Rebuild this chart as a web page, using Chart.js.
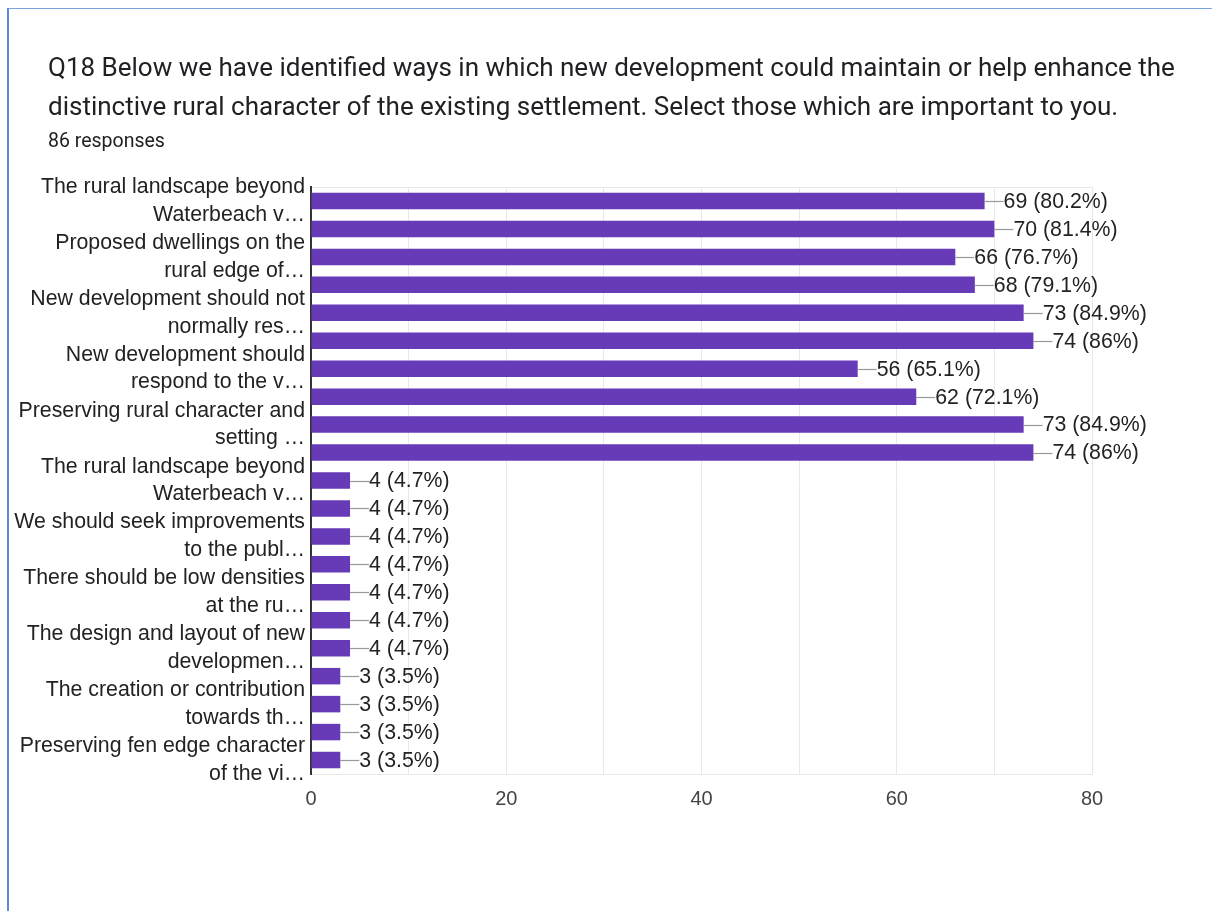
<!DOCTYPE html>
<html>
<head>
<meta charset="utf-8">
<script src="https://cdn.jsdelivr.net/npm/chart.js@4"></script>
<style>
  body { margin: 0; background: #fff; width: 1212px; height: 911px; overflow: hidden; position: relative; }
  .card { position: absolute; left: 7px; top: 8px; width: 1210px; height: 910px; border-left: 2px solid #5a8ad6; border-top: 1px solid #7aa3e0; }
  .titulo { position: absolute; left: 48px; top: 48px; font-family: Roboto, sans-serif; font-size: 26px; line-height: 39px; color: #202124; z-index: 2; white-space: nowrap; }
  .respuestas { position: absolute; left: 48px; top: 129px; font-family: Roboto, sans-serif; font-size: 19.5px; color: #202124; z-index: 2; }
  #grafica { position: absolute; left: 0; top: 0; }
</style>
</head>
<body>
<div class="card"></div>
<div class="titulo">Q18 Below we have identified ways in which new development could maintain or help enhance the<br>distinctive rural character of the existing settlement. Select those which are important to you.</div>
<div class="respuestas">86 responses</div>
<canvas id="grafica" width="1212" height="911"></canvas>
<script>
// etiquetas visibles (una cada dos barras)
const tickLabels = [
    ['The rural landscape beyond', 'Waterbeach v…'],
    ['Proposed dwellings on the', 'rural edge of…'],
    ['New development should not', 'normally res…'],
    ['New development should', 'respond to the v…'],
    ['Preserving rural character and', 'setting …'],
    ['The rural landscape beyond', 'Waterbeach v…'],
    ['We should seek improvements', 'to the publ…'],
    ['There should be low densities', 'at the ru…'],
    ['The design and layout of new', 'developmen…'],
    ['The creation or contribution', 'towards th…'],
    ['Preserving fen edge character', 'of the vi…']
];
const valores = [69, 70, 66, 68, 73, 74, 56, 62, 73, 74, 4, 4, 4, 4, 4, 4, 4, 3, 3, 3, 3];
const porcentajes = ['80.2%', '81.4%', '76.7%', '79.1%', '84.9%', '86%', '65.1%', '72.1%', '84.9%', '86%',
    '4.7%', '4.7%', '4.7%', '4.7%', '4.7%', '4.7%', '4.7%', '3.5%', '3.5%', '3.5%', '3.5%'];
const ticksX = [0, 20, 40, 60, 80];

const categorias = valores.map((v, i) => 'opcion ' + (i + 1));

const etiquetasBarras = {
    id: 'etiquetasBarras',
    afterDatasetsDraw(chart) {
        const ctx = chart.ctx;
        const meta = chart.getDatasetMeta(0);
        ctx.save();
        ctx.font = '21.3px "Liberation Sans", Arial, sans-serif';
        ctx.textAlign = 'left';
        ctx.textBaseline = 'middle';
        meta.data.forEach((bar, i) => {
            ctx.strokeStyle = '#999';
            ctx.lineWidth = 1.2;
            ctx.beginPath();
            ctx.moveTo(bar.x, Math.round(bar.y) + 0.5);
            ctx.lineTo(bar.x + 19, Math.round(bar.y) + 0.5);
            ctx.stroke();
            ctx.fillStyle = '#222';
            ctx.fillText(valores[i] + ' (' + porcentajes[i] + ')', bar.x + 19, bar.y + 1);
        });
        ctx.restore();
    }
};

const ctx = document.getElementById('grafica').getContext('2d');
const myChart = new Chart(ctx, {
    type: 'bar',
    data: {
        labels: categorias,
        datasets: [{
            data: valores,
            backgroundColor: '#673ab7',
            borderWidth: 0,
            barPercentage: 0.59,
            categoryPercentage: 1
        }]
    },
    options: {
        indexAxis: 'y',
        responsive: false,
        animation: false,
        events: [],
        layout: { padding: { top: 187, right: 120, bottom: 0, left: 0 } },
        plugins: { legend: { display: false }, tooltip: { enabled: false } },
        scales: {
            x: {
                min: 0,
                max: 80,
                afterFit: s => { s.height = 137; },
                afterBuildTicks: s => { s.ticks = [0, 10, 20, 30, 40, 50, 60, 70, 80].map(v => ({ value: v })); },
                ticks: {
                    padding: 13,
                    color: '#444',
                    font: { family: '"Liberation Sans", Arial, sans-serif', size: 20 },
                    callback: v => ticksX.includes(v) ? String(v) : ''
                },
                grid: { color: '#e8e8e8', lineWidth: 1, drawTicks: false },
                border: { color: '#e8e8e8', width: 1 }
            },
            y: {
                afterFit: s => { s.width = 311; },
                ticks: {
                    autoSkip: false,
                    padding: 6,
                    color: '#222',
                    font: { family: '"Liberation Sans", Arial, sans-serif', size: 21.3, lineHeight: 1.3 },
                    callback: (v, i) => i % 2 === 0 ? tickLabels[i / 2] : ''
                },
                grid: {
                    offset: true,
                    drawTicks: false,
                    color: c => c.index === 0 ? '#e8e8e8' : 'rgba(0,0,0,0)'
                },
                border: { color: '#333', width: 2 }
            }
        }
    },
    plugins: [etiquetasBarras]
});
</script>
</body>
</html>
